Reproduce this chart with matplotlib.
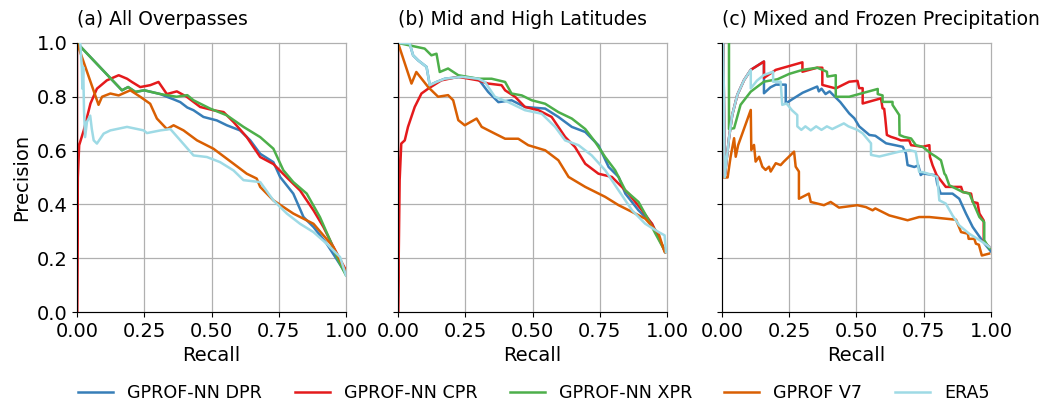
import numpy as np
import matplotlib
matplotlib.use("Agg")
import matplotlib.pyplot as plt

models = ["GPROF-NN DPR", "GPROF-NN CPR", "GPROF-NN XPR", "GPROF V7", "ERA5"]
colors = ["#377eb8", "#e41a1c", "#4daf4a", "#d95f02", "#9edae5"]
titles = ["(a) All Overpasses", "(b) Mid and High Latitudes", "(c) Mixed and Frozen Precipitation"]

# (recall, precision)
a_dpr = [(0, 1.0), (0.167, 0.824), (0.19, 0.836), (0.217, 0.818), (0.25, 0.824), (0.31, 0.81),
         (0.334, 0.80), (0.36, 0.79), (0.384, 0.78), (0.41, 0.76), (0.433, 0.75), (0.47, 0.725),
         (0.52, 0.712), (0.557, 0.694), (0.606, 0.675), (0.644, 0.638), (0.681, 0.588), (0.73, 0.557),
         (0.755, 0.502), (0.804, 0.44), (0.842, 0.353), (0.879, 0.316), (0.928, 0.254), (1.0, 0.142)]
a_cpr = [(0, 1.0), (0, 0), (0.003, 0.5), (0.008, 0.62), (0.025, 0.675), (0.05, 0.775), (0.074, 0.83),
         (0.111, 0.861), (0.155, 0.88), (0.186, 0.867), (0.204, 0.855), (0.235, 0.836), (0.272, 0.843),
         (0.303, 0.855), (0.334, 0.81), (0.371, 0.82), (0.408, 0.80), (0.458, 0.762), (0.507, 0.75),
         (0.545, 0.743), (0.582, 0.706), (0.631, 0.65), (0.681, 0.576), (0.73, 0.55), (0.78, 0.50),
         (0.829, 0.452), (0.879, 0.378), (0.916, 0.316), (0.953, 0.242), (1.0, 0.155)]
a_xpr = [(0, 1.0), (0.167, 0.824), (0.19, 0.836), (0.217, 0.818), (0.25, 0.824), (0.31, 0.81),
         (0.37, 0.80), (0.41, 0.806), (0.433, 0.787), (0.495, 0.756), (0.557, 0.731), (0.619, 0.688),
         (0.681, 0.65), (0.73, 0.607), (0.767, 0.527), (0.804, 0.483), (0.854, 0.44), (0.903, 0.353),
         (0.941, 0.266), (0.971, 0.192), (1.0, 0.136)]
a_v7 = [(0, 1.0), (0.08, 0.77), (0.093, 0.80), (0.124, 0.812), (0.155, 0.805), (0.198, 0.824),
        (0.235, 0.80), (0.272, 0.774), (0.297, 0.719), (0.334, 0.68), (0.359, 0.694), (0.396, 0.675),
        (0.446, 0.638), (0.507, 0.607), (0.582, 0.551), (0.631, 0.514), (0.668, 0.496), (0.681, 0.465),
        (0.73, 0.415), (0.804, 0.366), (0.879, 0.328), (0.953, 0.242), (1.0, 0.149)]
a_era5 = [(0.012, 0.998), (0.018, 0.906), (0.02, 0.83), (0.023, 0.91), (0.026, 0.75), (0.03, 0.65),
          (0.037, 0.707), (0.049, 0.73), (0.055, 0.68), (0.062, 0.638), (0.074, 0.626), (0.099, 0.663),
          (0.124, 0.675), (0.186, 0.688), (0.248, 0.675), (0.26, 0.665), (0.31, 0.675), (0.347, 0.68),
          (0.384, 0.638), (0.433, 0.582), (0.483, 0.576), (0.532, 0.557), (0.582, 0.526), (0.619, 0.49),
          (0.681, 0.483), (0.73, 0.415), (0.78, 0.366), (0.829, 0.328), (0.879, 0.297), (0.928, 0.254),
          (0.978, 0.204), (1.0, 0.136)]

b_dpr = [(0, 1.0), (0.043, 0.998), (0.056, 0.954), (0.075, 0.935), (0.106, 0.911), (0.118, 0.843),
         (0.143, 0.855), (0.174, 0.867), (0.236, 0.874), (0.298, 0.867), (0.335, 0.818), (0.373, 0.78),
         (0.422, 0.787), (0.472, 0.762), (0.547, 0.756), (0.596, 0.725), (0.646, 0.688), (0.696, 0.669),
         (0.745, 0.62), (0.783, 0.539), (0.82, 0.502), (0.845, 0.44), (0.894, 0.378), (0.944, 0.328),
         (0.994, 0.223)]
b_cpr = [(0, 1.0), (0, 0), (0.006, 0.49), (0.012, 0.626), (0.025, 0.638), (0.037, 0.688), (0.062, 0.762),
         (0.087, 0.812), (0.112, 0.83), (0.161, 0.861), (0.224, 0.874), (0.298, 0.861), (0.335, 0.849),
         (0.385, 0.843), (0.398, 0.824), (0.435, 0.80), (0.472, 0.762), (0.522, 0.75), (0.571, 0.725),
         (0.621, 0.651), (0.658, 0.613), (0.696, 0.551), (0.745, 0.514), (0.795, 0.502), (0.857, 0.44),
         (0.907, 0.378), (0.944, 0.328), (0.994, 0.223)]
b_xpr = [(0, 1.0), (0.099, 0.979), (0.124, 0.954), (0.143, 0.96), (0.155, 0.892), (0.186, 0.905),
         (0.224, 0.88), (0.298, 0.867), (0.348, 0.867), (0.398, 0.855), (0.422, 0.812), (0.46, 0.805),
         (0.497, 0.787), (0.547, 0.774), (0.596, 0.743), (0.646, 0.719), (0.696, 0.68), (0.733, 0.632),
         (0.77, 0.576), (0.807, 0.527), (0.845, 0.452), (0.894, 0.409), (0.925, 0.353), (0.957, 0.291),
         (0.994, 0.223)]
b_v7 = [(0, 1.0), (0.05, 0.849), (0.068, 0.892), (0.112, 0.836), (0.149, 0.80), (0.186, 0.806),
        (0.205, 0.787), (0.224, 0.713), (0.248, 0.694), (0.292, 0.719), (0.311, 0.688), (0.36, 0.663),
        (0.398, 0.644), (0.447, 0.644), (0.484, 0.62), (0.547, 0.601), (0.596, 0.564), (0.634, 0.502),
        (0.696, 0.465), (0.77, 0.428), (0.82, 0.397), (0.87, 0.372), (0.919, 0.347), (0.969, 0.291),
        (0.991, 0.223), (0.996, 0.223)]
b_era5 = [(0, 1.0), (0.043, 0.998), (0.056, 0.954), (0.075, 0.935), (0.106, 0.911), (0.118, 0.843),
          (0.143, 0.855), (0.174, 0.867), (0.236, 0.874), (0.298, 0.867), (0.323, 0.855), (0.36, 0.80),
          (0.41, 0.78), (0.472, 0.75), (0.534, 0.737), (0.584, 0.688), (0.621, 0.638), (0.671, 0.62),
          (0.72, 0.582), (0.77, 0.527), (0.82, 0.452), (0.87, 0.378), (0.919, 0.328), (0.969, 0.297),
          (0.991, 0.285), (0.996, 0.223)]

c_dpr = [(0.005, 1.0), (0.01, 0.5), (0.026, 0.646), (0.038, 0.732), (0.057, 0.807), (0.082, 0.862),
         (0.107, 0.9), (0.156, 0.931), (0.156, 0.813), (0.18, 0.835), (0.2, 0.845), (0.237, 0.845),
         (0.237, 0.775), (0.26, 0.79), (0.3, 0.815), (0.354, 0.838), (0.36, 0.82), (0.37, 0.83),
         (0.385, 0.81), (0.4, 0.82), (0.42, 0.80), (0.44, 0.78), (0.473, 0.738), (0.492, 0.72),
         (0.51, 0.69), (0.548, 0.658), (0.57, 0.655), (0.61, 0.627), (0.672, 0.614), (0.684, 0.589),
         (0.69, 0.546), (0.715, 0.539), (0.73, 0.545), (0.739, 0.509), (0.746, 0.515), (0.795, 0.508),
         (0.8, 0.477), (0.813, 0.44), (0.857, 0.44), (0.882, 0.421), (0.907, 0.366), (0.932, 0.316),
         (0.963, 0.272), (0.981, 0.248), (1.0, 0.225)]
c_cpr = [(0.005, 1.0), (0.01, 0.5), (0.026, 0.646), (0.038, 0.732), (0.057, 0.807), (0.082, 0.862),
         (0.107, 0.9), (0.156, 0.931), (0.156, 0.87), (0.2, 0.9), (0.299, 0.928), (0.299, 0.893),
         (0.354, 0.908), (0.373, 0.908), (0.373, 0.844), (0.423, 0.831), (0.473, 0.856), (0.504, 0.859),
         (0.51, 0.832), (0.523, 0.832), (0.523, 0.775), (0.591, 0.794), (0.597, 0.757), (0.603, 0.755),
         (0.607, 0.72), (0.613, 0.658), (0.628, 0.651), (0.647, 0.645), (0.665, 0.638), (0.696, 0.638),
         (0.703, 0.62), (0.746, 0.614), (0.771, 0.62), (0.773, 0.577), (0.783, 0.545), (0.798, 0.509),
         (0.832, 0.465), (0.889, 0.465), (0.895, 0.446), (0.926, 0.44), (0.932, 0.409), (0.95, 0.405),
         (0.957, 0.366), (0.973, 0.34), (0.973, 0.26), (0.994, 0.242)]
c_xpr = [(0.026, 1.0), (0.026, 0.68), (0.045, 0.683), (0.069, 0.77), (0.107, 0.819), (0.156, 0.856),
         (0.206, 0.865), (0.25, 0.885), (0.3, 0.9), (0.354, 0.908), (0.39, 0.893), (0.392, 0.875),
         (0.423, 0.88), (0.423, 0.80), (0.473, 0.8), (0.579, 0.829), (0.579, 0.81), (0.597, 0.805),
         (0.597, 0.781), (0.634, 0.781), (0.634, 0.77), (0.659, 0.732), (0.66, 0.658), (0.677, 0.651),
         (0.703, 0.645), (0.721, 0.62), (0.746, 0.614), (0.777, 0.589), (0.796, 0.577), (0.814, 0.564),
         (0.827, 0.514), (0.832, 0.508), (0.845, 0.471), (0.895, 0.446), (0.92, 0.44), (0.938, 0.397),
         (0.957, 0.353), (0.975, 0.334), (0.975, 0.267), (0.994, 0.236)]
c_v7 = [(0.009, 0.5), (0.021, 0.5), (0.032, 0.577), (0.045, 0.646), (0.051, 0.577), (0.06, 0.62),
        (0.107, 0.751), (0.109, 0.602), (0.119, 0.621), (0.125, 0.559), (0.138, 0.577), (0.15, 0.54),
        (0.162, 0.528), (0.175, 0.54), (0.181, 0.522), (0.2, 0.553), (0.218, 0.546), (0.23, 0.559),
        (0.268, 0.596), (0.274, 0.54), (0.286, 0.522), (0.286, 0.421), (0.323, 0.44), (0.33, 0.409),
        (0.379, 0.397), (0.404, 0.409), (0.435, 0.388), (0.503, 0.397), (0.535, 0.39), (0.56, 0.378),
        (0.57, 0.385), (0.622, 0.359), (0.69, 0.341), (0.733, 0.353), (0.771, 0.353), (0.87, 0.343),
        (0.889, 0.297), (0.914, 0.291), (0.917, 0.272), (0.938, 0.272), (0.944, 0.254), (0.955, 0.25),
        (0.966, 0.21), (0.993, 0.217)]
c_era5 = [(0.005, 1.0), (0.01, 0.5), (0.026, 0.646), (0.038, 0.732), (0.057, 0.807), (0.082, 0.862),
          (0.107, 0.9), (0.107, 0.831), (0.13, 0.86), (0.156, 0.881), (0.19, 0.893), (0.19, 0.856),
          (0.218, 0.856), (0.224, 0.77), (0.24, 0.775), (0.26, 0.75), (0.28, 0.732), (0.28, 0.69),
          (0.295, 0.677), (0.31, 0.69), (0.33, 0.675), (0.35, 0.69), (0.37, 0.677), (0.39, 0.69),
          (0.41, 0.68), (0.453, 0.701), (0.47, 0.69), (0.503, 0.677), (0.523, 0.664), (0.554, 0.627),
          (0.554, 0.584), (0.585, 0.578), (0.659, 0.596), (0.696, 0.602), (0.72, 0.596), (0.733, 0.521),
          (0.746, 0.52), (0.78, 0.51), (0.8, 0.502), (0.808, 0.415), (0.832, 0.403), (0.857, 0.359),
          (0.882, 0.322), (0.919, 0.291), (0.969, 0.26), (0.994, 0.242)]

panels = [
    [a_dpr, a_cpr, a_xpr, a_v7, a_era5],
    [b_dpr, b_cpr, b_xpr, b_v7, b_era5],
    [c_dpr, c_cpr, c_xpr, c_v7, c_era5],
]

fig = plt.figure(figsize=(10.45, 4.04), dpi=100)
lefts = [0.0737, 0.3809, 0.6909]
axes = []
for i, left in enumerate(lefts):
    ax = fig.add_axes([left, 0.2277, 0.2574, 0.666])
    axes.append(ax)
    for curve, name, col in zip(panels[i], models, colors):
        pts = np.array(curve)
        ax.plot(pts[:, 0], pts[:, 1], color=col, lw=1.8, label=name)
    ax.set_xlim(0, 1)
    ax.set_ylim(0, 1)
    ax.set_xticks([0, 0.25, 0.5, 0.75, 1.0])
    ax.set_yticks(np.arange(0, 1.01, 0.2))
    ax.grid(True, color="#b0b0b0", lw=0.9)
    for gl in ax.get_xgridlines() + ax.get_ygridlines():
        gl.set_clip_on(False)
    ax.set_axisbelow(True)
    ax.spines["top"].set_visible(False)
    ax.spines["right"].set_visible(False)
    ax.tick_params(labelsize=14)
    ax.set_xlabel("Recall", fontsize=14)
    ax.set_title(titles[i], loc="left", fontsize=13.5, pad=13)
    if i == 0:
        ax.set_ylabel("Precision", fontsize=14)
    else:
        ax.tick_params(labelleft=False)

handles, labels = axes[0].get_legend_handles_labels()
fig.legend(handles, labels, loc="lower center", bbox_to_anchor=(0.511, -0.035), ncol=5,
           frameon=False, fontsize=12.6, columnspacing=1.85)

fig.savefig("out.png", dpi=100)
